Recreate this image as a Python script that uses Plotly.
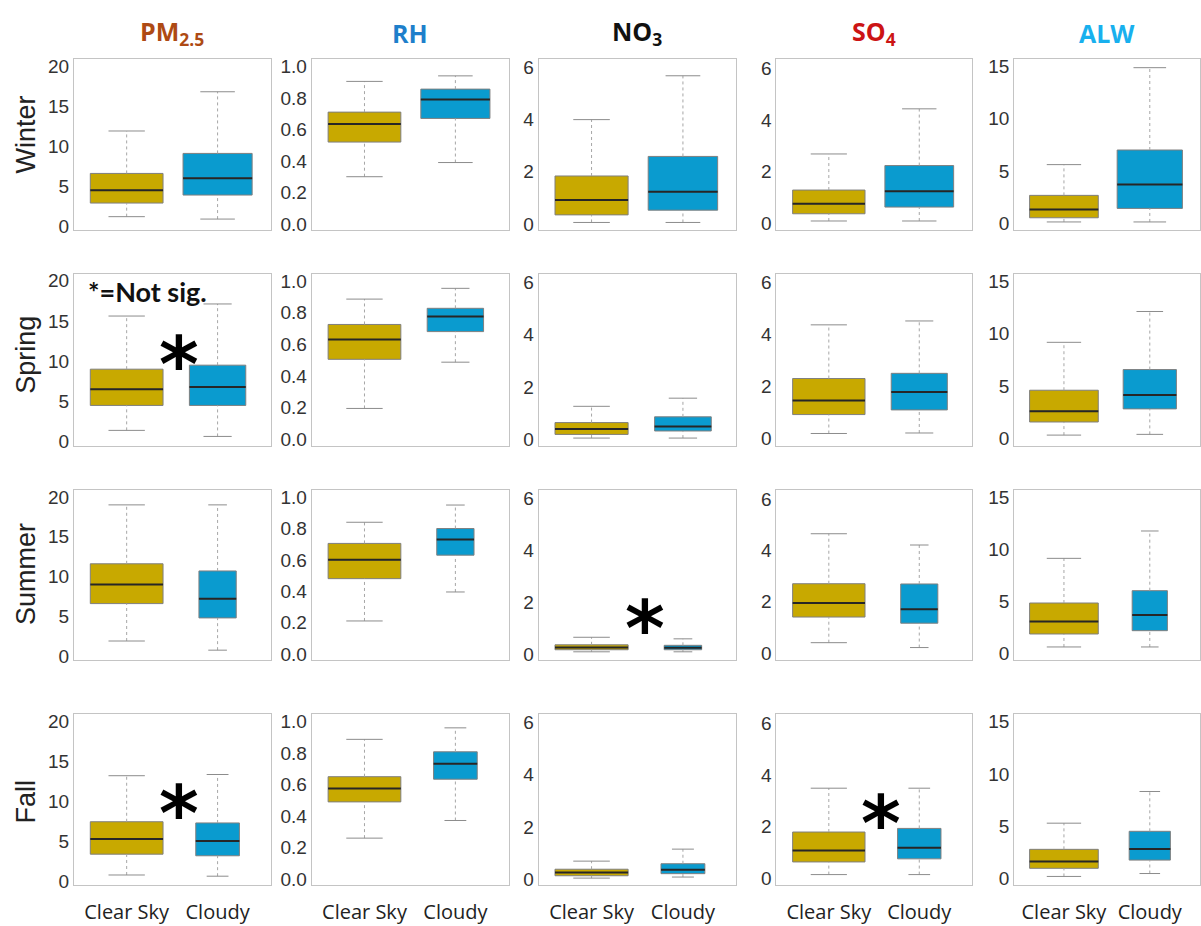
import plotly.graph_objects as go

# Seasons (rows) and variables (columns)
SEASONS = ["Winter", "Spring", "Summer", "Fall"]
VARIABLES = ["PM<sub>2.5</sub>", "RH", "NO<sub>3</sub>", "SO<sub>4</sub>", "ALW"]
VAR_COLORS = ["#AE4A14", "#1E7FCB", "#111111", "#CC1414", "#18B0EE"]
CONDITIONS = ["Clear Sky", "Cloudy"]

# Box statistics per season: [lower whisker, q1, median, q3, upper whisker]
PM25_CLEAR = [[1.2, 2.9, 4.5, 6.6, 11.9], [1.4, 4.5, 6.5, 9.0, 15.6],
              [1.9, 6.6, 9.0, 11.6, 19.0], [0.8, 3.4, 5.3, 7.45, 13.2]]
PM25_CLOUDY = [[0.9, 3.9, 6.0, 9.1, 16.8], [0.65, 4.5, 6.8, 9.5, 17.1],
               [0.75, 4.8, 7.2, 10.7, 19.0], [0.65, 3.2, 5.05, 7.3, 13.35]]
RH_CLEAR = [[0.30, 0.52, 0.635, 0.71, 0.905], [0.195, 0.505, 0.63, 0.725, 0.885],
            [0.21, 0.48, 0.60, 0.705, 0.84], [0.26, 0.49, 0.575, 0.65, 0.887]]
RH_CLOUDY = [[0.39, 0.67, 0.79, 0.856, 0.94], [0.487, 0.68, 0.775, 0.827, 0.953],
             [0.395, 0.63, 0.73, 0.80, 0.95], [0.372, 0.634, 0.732, 0.808, 0.96]]
NO3_CLEAR = [[0.06, 0.35, 0.92, 1.84, 4.0], [0.05, 0.19, 0.40, 0.64, 1.26],
             [0.08, 0.16, 0.25, 0.35, 0.64], [0.04, 0.13, 0.25, 0.38, 0.69]]
NO3_CLOUDY = [[0.06, 0.53, 1.24, 2.59, 5.68], [0.05, 0.32, 0.49, 0.86, 1.57],
              [0.08, 0.16, 0.24, 0.33, 0.58], [0.08, 0.21, 0.36, 0.59, 1.15]]
SO4_CLEAR = [[0.08, 0.36, 0.75, 1.28, 2.68], [0.19, 0.92, 1.46, 2.31, 4.38],
             [0.40, 1.40, 1.95, 2.70, 4.65], [0.14, 0.63, 1.07, 1.79, 3.49]]
SO4_CLOUDY = [[0.08, 0.62, 1.23, 2.23, 4.43], [0.21, 1.10, 1.79, 2.51, 4.53],
              [0.21, 1.16, 1.70, 2.69, 4.21], [0.14, 0.75, 1.18, 1.93, 3.49]]
ALW_CLEAR = [[0.1, 0.5, 1.3, 2.65, 5.6], [0.31, 1.56, 2.59, 4.59, 9.16],
             [0.57, 1.82, 3.02, 4.81, 9.12], [0.16, 0.94, 1.6, 2.76, 5.27]]
ALW_CLOUDY = [[0.1, 1.4, 3.7, 7.0, 14.9], [0.38, 2.81, 4.13, 6.56, 12.1],
              [0.57, 2.14, 3.65, 6.0, 11.76], [0.44, 1.73, 2.79, 4.49, 8.31]]

CLEAR = [PM25_CLEAR, RH_CLEAR, NO3_CLEAR, SO4_CLEAR, ALW_CLEAR]
CLOUDY = [PM25_CLOUDY, RH_CLOUDY, NO3_CLOUDY, SO4_CLOUDY, ALW_CLOUDY]

# Relative box widths (proportional to sample size)
CLEAR_WIDTH = [0.8, 0.8, 0.8, 0.8]
CLOUDY_WIDTH = [0.76, 0.62, 0.41, 0.48]

# Axis ticks and ranges per variable
Y_TICKS = [[0, 5, 10, 15, 20], [0.0, 0.2, 0.4, 0.6, 0.8, 1.0], [0, 2, 4, 6], [0, 2, 4, 6], [0, 5, 10, 15]]
Y_FORMAT = ["d", ".1f", "d", "d", "d"]
Y_RANGES = [[-0.5, 20.85], [-0.04, 1.045], [-0.24, 6.31], [-0.28, 6.35], [-0.7, 15.7]]

# Non-significant differences: (season index, variable index, y position)
NOT_SIG = [(1, 0, 11.3), (2, 2, 1.52), (3, 0, 10.2), (3, 3, 2.66)]

FILL = ["#C8A900", "#0A9BCF"]
W, H = 1201, 926
COL_PX = [(74, 271), (312, 509), (539, 737), (777, 973), (1015, 1201)]
ROW_PX = [(56, 229), (273, 447), (492, 664), (719, 892)]
ROW_LABEL_Y = [132, 355, 577, 807]

fig = go.Figure()
layout = {}
annotations = []

for r, season in enumerate(SEASONS):
    for c in range(len(VARIABLES)):
        k = r * 5 + c + 1
        xa = "x" if k == 1 else f"x{k}"
        ya = "y" if k == 1 else f"y{k}"
        for j, (stats, width) in enumerate(((CLEAR[c][r], CLEAR_WIDTH[r]), (CLOUDY[c][r], CLOUDY_WIDTH[r]))):
            lo, q1, med, q3, hi = stats
            pos = j + 1
            # box body
            fig.add_trace(go.Box(
                x=[pos], q1=[q1], median=[med], q3=[q3], lowerfence=[q1], upperfence=[q3],
                width=width, fillcolor=FILL[j], line=dict(color="#7f7f7f", width=1),
                whiskerwidth=0, boxpoints=False, hoverinfo="skip",
                xaxis=xa, yaxis=ya, showlegend=False))
            # dotted whiskers
            fig.add_trace(go.Scatter(
                x=[pos, pos, None, pos, pos], y=[lo, q1, None, q3, hi], mode="lines",
                line=dict(color="#a6a6a6", width=1, dash="dot"),
                xaxis=xa, yaxis=ya, showlegend=False, hoverinfo="skip"))
            # whisker caps
            cw = width / 4
            fig.add_trace(go.Scatter(
                x=[pos - cw, pos + cw, None, pos - cw, pos + cw], y=[lo, lo, None, hi, hi], mode="lines",
                line=dict(color="#8c8c8c", width=1),
                xaxis=xa, yaxis=ya, showlegend=False, hoverinfo="skip"))
            # median
            fig.add_trace(go.Scatter(
                x=[pos - width / 2, pos + width / 2], y=[med, med], mode="lines",
                line=dict(color="#262626", width=2),
                xaxis=xa, yaxis=ya, showlegend=False, hoverinfo="skip"))

        x0, x1 = COL_PX[c]
        y0, y1 = ROW_PX[r]
        last_row = r == len(SEASONS) - 1
        layout["xaxis" if k == 1 else f"xaxis{k}"] = dict(
            domain=[x0 / W, x1 / W], anchor=ya, range=[0.42, 2.585],
            showgrid=False, zeroline=False, showline=True, mirror=True,
            linecolor="#c4c4c4", linewidth=1, ticks="",
            tickvals=[1, 2], ticktext=CONDITIONS, showticklabels=last_row,
            ticklabelstandoff=9,
            tickfont=dict(family="Open Sans", size=20, color="#222222"))
        layout["yaxis" if k == 1 else f"yaxis{k}"] = dict(
            domain=[1 - y1 / H, 1 - y0 / H], anchor=xa, range=Y_RANGES[c],
            showgrid=False, zeroline=False, showline=True, mirror=True,
            linecolor="#c4c4c4", linewidth=1, ticks="",
            tickvals=Y_TICKS[c], tickformat=Y_FORMAT[c],
            tickfont=dict(family="Liberation Sans", size=19, color="#333333"))

# asterisks marking non-significant differences
for r, c, yv in NOT_SIG:
    k = r * 5 + c + 1
    annotations.append(dict(
        x=1.58, y=yv, xref="x" if k == 1 else f"x{k}", yref="y" if k == 1 else f"y{k}",
        text="<b>*</b>", showarrow=False, xanchor="center", yanchor="middle", yshift=-14,
        font=dict(family="DejaVu Sans", size=76, color="#000000")))

annotations.append(dict(
    x=0.55, y=18.6, xref="x6", yref="y6", text="<b>*=Not sig.</b>", showarrow=False,
    xanchor="left", yanchor="middle",
    font=dict(family="Lato", size=27, color="#111111")))

# column headers
for c, (name, color) in enumerate(zip(VARIABLES, VAR_COLORS)):
    x0, x1 = COL_PX[c]
    annotations.append(dict(
        x=(x0 + x1) / 2 / W, y=1 - 29 / H, xref="paper", yref="paper",
        text=f"<b>{name}</b>", showarrow=False, xanchor="center", yanchor="middle",
        font=dict(family="Open Sans", size=25, color=color)))

# row labels
for r, season in enumerate(SEASONS):
    annotations.append(dict(
        x=26 / W, y=1 - ROW_LABEL_Y[r] / H, xref="paper", yref="paper",
        text=season, showarrow=False, textangle=-90, xanchor="center", yanchor="middle",
        font=dict(family="Liberation Sans", size=27, color="#222222")))

fig.update_layout(
    width=W, height=H, margin=dict(l=0, r=0, t=0, b=0),
    paper_bgcolor="white", plot_bgcolor="white",
    annotations=annotations, **layout)

fig.write_html("out.html")
